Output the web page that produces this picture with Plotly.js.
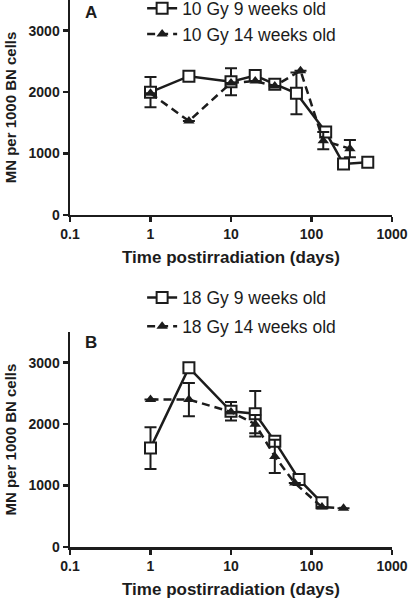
<!DOCTYPE html>
<html>
<head>
<meta charset="utf-8">
<script src="https://cdn.plot.ly/plotly-3.0.1.min.js"></script>
<style>html,body{margin:0;padding:0;background:#fff;}#chart{width:409px;height:601px;}</style>
</head>
<body>
<div id="chart"></div>
<script>
// Panel A: 10 Gy
const a9x = [1, 3, 10, 20, 35, 65, 150, 250, 500];
const a9y = [2000, 2260, 2170, 2270, 2130, 1980, 1350, 830, 860];
const a9e = [245, null, 220, null, null, 340, null, null, null];
const a14x = [1, 3, 10, 20, 35, 73, 140, 300];
const a14y = [1980, 1530, 2150, 2180, 2100, 2350, 1210, 1080];
const a14e = [null, null, null, null, null, null, 140, 140];
// Panel B: 18 Gy
const b9x = [1, 3, 10, 20, 35, 70, 135];
const b9y = [1610, 2920, 2210, 2170, 1720, 1100, 720];
const b9e = [340, null, 150, 370, null, null, null];
const b14x = [1, 3, 10, 20, 35, 62, 135, 250];
const b14y = [2400, 2400, 2200, 2000, 1475, 1040, 650, 630];
const b14e = [null, 270, null, 150, 270, null, null, null];

const xTicks = [0.1, 1, 10, 100, 1000];
const xTickText = ['0.1', '1', '10', '100', '1000'];
const yTicks = [0, 1000, 2000, 3000];

const C = '#1c1c1c';
const F = 'Liberation Sans, Arial, sans-serif';

function sq(x, y, e, name, xa, ya, leg) {
  return {x: x, y: y, name: name, xaxis: xa, yaxis: ya, legend: leg, legendgroup: name,
    type: 'scatter', mode: 'lines+markers',
    line: {color: C, width: 2.5},
    marker: {symbol: 'square', size: 11, color: '#fff', line: {color: C, width: 2}},
    error_y: {type: 'data', array: e, visible: true, color: C, thickness: 2, width: 6}};
}
function tri(x, y, e, name, xa, ya, leg) {
  return {x: x, y: y, name: name, xaxis: xa, yaxis: ya, legend: leg, legendgroup: name,
    type: 'scatter', mode: 'lines+markers',
    line: {color: C, width: 2.5, dash: '8px,5px'},
    marker: {symbol: 'triangle-up', size: 10, color: C, line: {color: C, width: 0}},
    error_y: {type: 'data', array: e, visible: true, color: C, thickness: 2, width: 6}};
}

const data = [
  sq(a9x, a9y, a9e, '10 Gy 9 weeks old', 'x', 'y', 'legend'),
  tri(a14x, a14y, a14e, '10 Gy 14 weeks old', 'x', 'y', 'legend'),
  sq(b9x, b9y, b9e, '18 Gy 9 weeks old', 'x2', 'y2', 'legend2'),
  tri(b14x, b14y, b14e, '18 Gy 14 weeks old', 'x2', 'y2', 'legend2')
];

function xax(anchor) {
  return {type: 'log', range: [-1, 3], anchor: anchor, tickvals: xTicks, ticktext: xTickText,
    showline: true, linecolor: C, linewidth: 2.5, ticks: 'outside', ticklen: 5, tickwidth: 2.5, tickcolor: C,
    showgrid: false, zeroline: false,
    tickfont: {family: F, size: 14, color: C, weight: 'bold'},
    title: {text: 'Time postirradiation (days)', standoff: 10, font: {family: F, size: 17, color: C, weight: 'bold'}}};
}
function yax(anchor, dom) {
  return {range: [0, 3500], domain: dom, anchor: anchor, tickvals: yTicks,
    showline: true, linecolor: C, linewidth: 2.5, ticks: 'outside', ticklen: 5, tickwidth: 2.5, tickcolor: C,
    showgrid: false, zeroline: false,
    tickfont: {family: F, size: 14, color: C, weight: 'bold'},
    title: {text: 'MN per 1000 BN cells', standoff: 9, font: {family: F, size: 15, color: C, weight: 'bold'}}};
}

const layout = {
  width: 409, height: 601,
  margin: {l: 70, r: 17, t: 0, b: 54, autoexpand: false},
  paper_bgcolor: '#fff', plot_bgcolor: '#fff',
  showlegend: true,
  xaxis: xax('y'),
  yaxis: yax('x', [0.607, 1]),
  xaxis2: xax('y2'),
  yaxis2: yax('x2', [0, 0.393]),
  legend: {x: 0.224, y: 1.0175, xref: 'paper', yref: 'paper', xanchor: 'left', yanchor: 'top',
    bgcolor: 'rgba(0,0,0,0)', font: {family: F, size: 17.5, color: C}, tracegroupgap: 0},
  legend2: {x: 0.224, y: 0.489, xref: 'paper', yref: 'paper', xanchor: 'left', yanchor: 'top',
    bgcolor: 'rgba(0,0,0,0)', font: {family: F, size: 17.5, color: C}, tracegroupgap: 3},
  annotations: [
    {text: 'A', xref: 'paper', yref: 'paper', x: 0.040, y: 0.999, xanchor: 'left', yanchor: 'top', showarrow: false,
     font: {family: F, size: 17, color: C, weight: 'bold'}},
    {text: 'B', xref: 'paper', yref: 'paper', x: 0.040, y: 0.395, xanchor: 'left', yanchor: 'top', showarrow: false,
     font: {family: F, size: 17, color: C, weight: 'bold'}}
  ]
};

Plotly.newPlot('chart', data, layout, {displayModeBar: false, staticPlot: true});
</script>
</body>
</html>
